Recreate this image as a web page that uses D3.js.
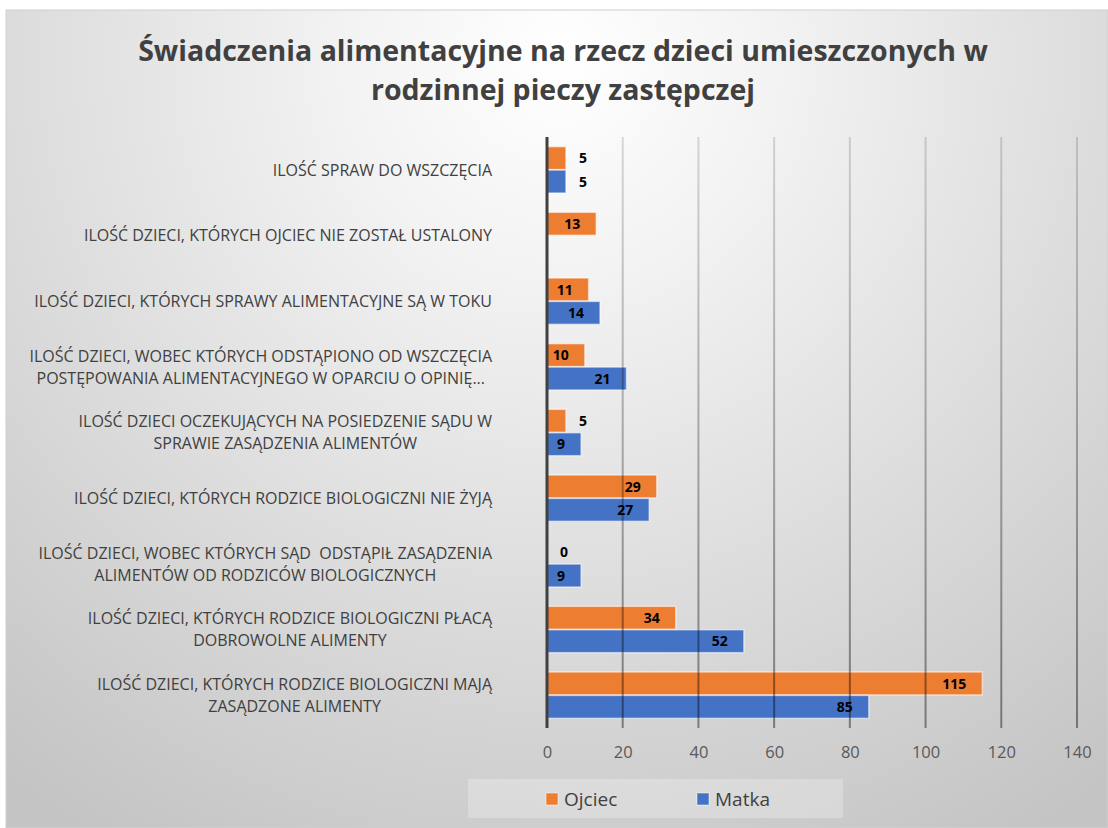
<!DOCTYPE html>
<html><head><meta charset="utf-8">
<script src="https://cdn.jsdelivr.net/npm/d3@7"></script>
<style>html,body{margin:0;padding:0;background:#fff;}svg{display:block;}</style>
</head><body>
<svg id="chart" width="1108" height="828"></svg>
<script>
const title = ["Świadczenia alimentacyjne na rzecz dzieci umieszczonych w", "rodzinnej pieczy zastępczej"];
const categories = [
  "ILOŚĆ SPRAW DO WSZCZĘCIA",
  "ILOŚĆ DZIECI, KTÓRYCH OJCIEC NIE ZOSTAŁ USTALONY",
  "ILOŚĆ DZIECI, KTÓRYCH SPRAWY ALIMENTACYJNE SĄ W TOKU",
  "ILOŚĆ DZIECI, WOBEC KTÓRYCH ODSTĄPIONO OD WSZCZĘCIA\nPOSTĘPOWANIA ALIMENTACYJNEGO W OPARCIU O OPINIĘ...",
  "ILOŚĆ DZIECI OCZEKUJĄCYCH NA POSIEDZENIE SĄDU W\nSPRAWIE ZASĄDZENIA ALIMENTÓW",
  "ILOŚĆ DZIECI, KTÓRYCH RODZICE BIOLOGICZNI NIE ŻYJĄ",
  "ILOŚĆ DZIECI, WOBEC KTÓRYCH SĄD  ODSTĄPIŁ ZASĄDZENIA\nALIMENTÓW OD RODZICÓW BIOLOGICZNYCH",
  "ILOŚĆ DZIECI, KTÓRYCH RODZICE BIOLOGICZNI PŁACĄ\nDOBROWOLNE ALIMENTY",
  "ILOŚĆ DZIECI, KTÓRYCH RODZICE BIOLOGICZNI MAJĄ\nZASĄDZONE ALIMENTY"
];
const seriesNames = ["Ojciec", "Matka"];
const ojciec = [5, 13, 11, 10, 5, 29, 0, 34, 115];
const matka  = [5, null, 14, 21, 9, 27, 9, 52, 85];
const xTicks = [0, 20, 40, 60, 80, 100, 120, 140];
const colors = ["#ED7D31", "#4472C4"];

const svg = d3.select("#chart");
const W = 1108, H = 828;
const plot = {left: 547, right: 1077, top: 137, bottom: 728};
const font = "'Open Sans', 'DejaVu Sans', sans-serif";

// background
const defs = svg.append("defs");
const rg = defs.append("radialGradient").attr("id", "bg")
  .attr("gradientUnits", "userSpaceOnUse")
  .attr("cx", 560).attr("cy", 60).attr("r", 900);
rg.append("stop").attr("offset", "0").attr("stop-color", "#ffffff");
rg.append("stop").attr("offset", "0.25").attr("stop-color", "#f2f2f2");
rg.append("stop").attr("offset", "1").attr("stop-color", "#c4c4c4");
svg.append("rect").attr("x", 6).attr("y", 10).attr("width", W - 6).attr("height", H - 10)
  .attr("fill", "url(#bg)").attr("stroke", "#d0d0d0").attr("stroke-width", 1);

const gg = defs.append("linearGradient").attr("id", "gridg")
  .attr("gradientUnits", "userSpaceOnUse")
  .attr("x1", 0).attr("y1", plot.top).attr("x2", 0).attr("y2", plot.bottom);
gg.append("stop").attr("offset", "0").attr("stop-color", "#000").attr("stop-opacity", 0.14);
gg.append("stop").attr("offset", "1").attr("stop-color", "#000").attr("stop-opacity", 0.42);

// title
svg.append("g").selectAll("text").data(title).join("text")
  .attr("x", 563).attr("y", (d, i) => 61 + i * 39)
  .attr("text-anchor", "middle")
  .attr("font-family", font).attr("font-weight", "bold").attr("font-size", 28.5)
  .attr("fill", "#404040").text(d => d);

// scales
const x = d3.scaleLinear().domain([0, 140]).range([plot.left, plot.right]);
const y = d3.scaleBand().domain(categories).range([plot.top, plot.bottom])
  .paddingInner(0.28).paddingOuter(0.14);
const ys = d3.scaleBand().domain(seriesNames).range([0, y.bandwidth()]).padding(0.02);

// bars
const rows = categories.map((c, i) => ({cat: c, vals: [ojciec[i], matka[i]]}));
const barG = svg.append("g");
rows.forEach(r => {
  r.vals.forEach((v, si) => {
    if (v === null) return;
    barG.append("rect")
      .attr("x", x(0)).attr("y", y(r.cat) + ys(seriesNames[si]))
      .attr("width", x(v) - x(0)).attr("height", ys.bandwidth())
      .attr("fill", colors[si])
      .attr("stroke", "rgba(255,255,255,0.55)").attr("stroke-width", 1.5);
  });
});

// gridlines
svg.append("g").selectAll("line").data(xTicks.filter(t => t > 0)).join("line")
  .attr("x1", d => x(d)).attr("x2", d => x(d))
  .attr("y1", plot.top).attr("y2", plot.bottom)
  .attr("stroke", "url(#gridg)").attr("stroke-width", 2);

// axis line
svg.append("line").attr("x1", x(0)).attr("x2", x(0)).attr("y1", plot.top).attr("y2", plot.bottom)
  .attr("stroke", "#404040").attr("stroke-width", 3);

// value labels
const labG = svg.append("g");
rows.forEach(r => {
  r.vals.forEach((v, si) => {
    if (v === null) return;
    const w = x(v) - x(0);
    const cy = y(r.cat) + ys(seriesNames[si]) + ys.bandwidth() / 2;
    const inside = w >= 30;
    labG.append("text")
      .attr("x", inside ? x(v) - 16 : x(v) + 17)
      .attr("y", cy).attr("dy", "0.36em")
      .attr("text-anchor", inside ? "end" : "middle")
      .attr("font-family", font).attr("font-weight", "bold").attr("font-size", 14)
      .attr("fill", "#000").text(v);
  });
});

// x axis tick labels
const xAxis = d3.axisBottom(x).tickValues(xTicks).tickSize(0).tickPadding(0);
const xa = svg.append("g").attr("transform", `translate(0, ${plot.bottom + 30})`).call(xAxis);
xa.select(".domain").remove();
xa.selectAll("text").attr("font-family", font).attr("font-size", 16.5).attr("fill", "#595959").attr("dy", "0");

// category labels
const catG = svg.append("g");
const labelRight = 492;
categories.forEach(c => {
  const lines = c.split("\n");
  const cy = y(c) + y.bandwidth() / 2;
  const lh = 22;
  const g = catG.append("g");
  const texts = lines.map((ln, i) => g.append("text")
    .attr("y", cy + (i - (lines.length - 1) / 2) * lh).attr("dy", "0.36em")
    .attr("text-anchor", "middle")
    .attr("font-family", font).attr("font-size", 16).attr("fill", "#404040")
    .style("white-space", "pre").text(ln));
  const maxW = d3.max(texts, t => t.node().getComputedTextLength());
  texts.forEach(t => t.attr("x", labelRight - maxW / 2));
});

// legend
const lg = svg.append("g");
lg.append("rect").attr("x", 468).attr("y", 779).attr("width", 375).attr("height", 39)
  .attr("fill", "#ffffff").attr("fill-opacity", 0.25);
const legX = [546, 697];
seriesNames.forEach((s, i) => {
  lg.append("rect").attr("x", legX[i]).attr("y", 793).attr("width", 12).attr("height", 12)
    .attr("fill", colors[i]).attr("stroke", "rgba(255,255,255,0.5)");
  lg.append("text").attr("x", legX[i] + 18).attr("y", 799).attr("dy", "0.36em")
    .attr("font-family", font).attr("font-size", 19).attr("fill", "#404040").text(s);
});
</script>
</body></html>
